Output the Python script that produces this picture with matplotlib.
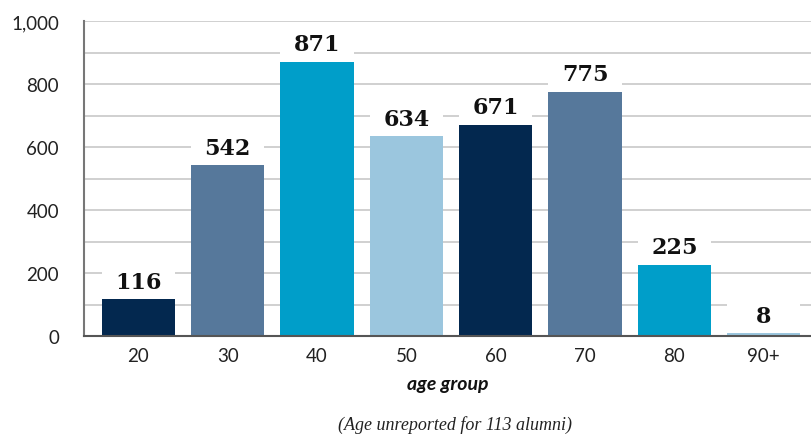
import matplotlib.pyplot as plt
from matplotlib.ticker import FuncFormatter, MultipleLocator

ages = ["20", "30", "40", "50", "60", "70", "80", "90+"]
counts = [116, 542, 871, 634, 671, 775, 225, 8]
bar_colors = ["#03284f", "#56789b", "#009ec9", "#9bc6de",
              "#03284f", "#56789b", "#009ec9", "#9bc6de"]


def main():
    fig = plt.figure(figsize=(8.11, 4.35), dpi=100)
    ax = fig.add_axes([84 / 811, 98 / 435, 1 - 84 / 811, 315 / 435])

    x = list(range(len(ages)))
    ax.bar(x, counts, width=0.82, color=bar_colors, zorder=2)
    # white patches behind the value labels, they cut the gridlines
    ax.bar(x, [110] * len(x), bottom=counts, width=0.82, color="white", zorder=1.5)
    for xi, v in zip(x, counts):
        ax.text(xi, v + 56, f"{v}", ha="center", va="center", fontsize=16,
                fontweight="bold", family="DejaVu Serif", color="#111111", zorder=3)

    ax.set_xlim(-0.61, 7.53)
    ax.set_ylim(0, 1000)
    ax.yaxis.set_major_locator(MultipleLocator(200))
    ax.yaxis.set_minor_locator(MultipleLocator(100))
    ax.yaxis.set_major_formatter(FuncFormatter(lambda v, p: f"{int(v):,}"))
    ax.grid(axis="y", which="both", color="#c8c8c8", lw=1.2, zorder=0.5)
    ax.set_axisbelow(True)

    ax.set_xticks(x)
    ax.set_xticklabels(ages)
    ax.tick_params(axis="both", which="both", length=0, labelsize=13.5, colors="#222222")
    ax.tick_params(axis="y", pad=18)
    ax.tick_params(axis="x", pad=8)
    for lbl in ax.get_xticklabels() + ax.get_yticklabels():
        lbl.set_family("Lato")

    for s in ["top", "right"]:
        ax.spines[s].set_visible(False)
    ax.spines["left"].set_color("#777777")
    ax.spines["left"].set_linewidth(1.5)
    ax.spines["bottom"].set_color("#555555")
    ax.spines["bottom"].set_linewidth(1.5)
    ax.spines["bottom"].set_zorder(3)

    ax.set_xlabel("age group", fontsize=14, fontweight="bold", style="italic",
                  family="Lato", color="#111111", labelpad=8)
    fig.text(455 / 811, 1 - 425 / 435, "(Age unreported for 113 alumni)",
             ha="center", va="center", fontsize=13, style="italic",
             family="Liberation Serif", color="#222222")

    fig.savefig("out.png", dpi=100)


if __name__ == "__main__":
    main()
